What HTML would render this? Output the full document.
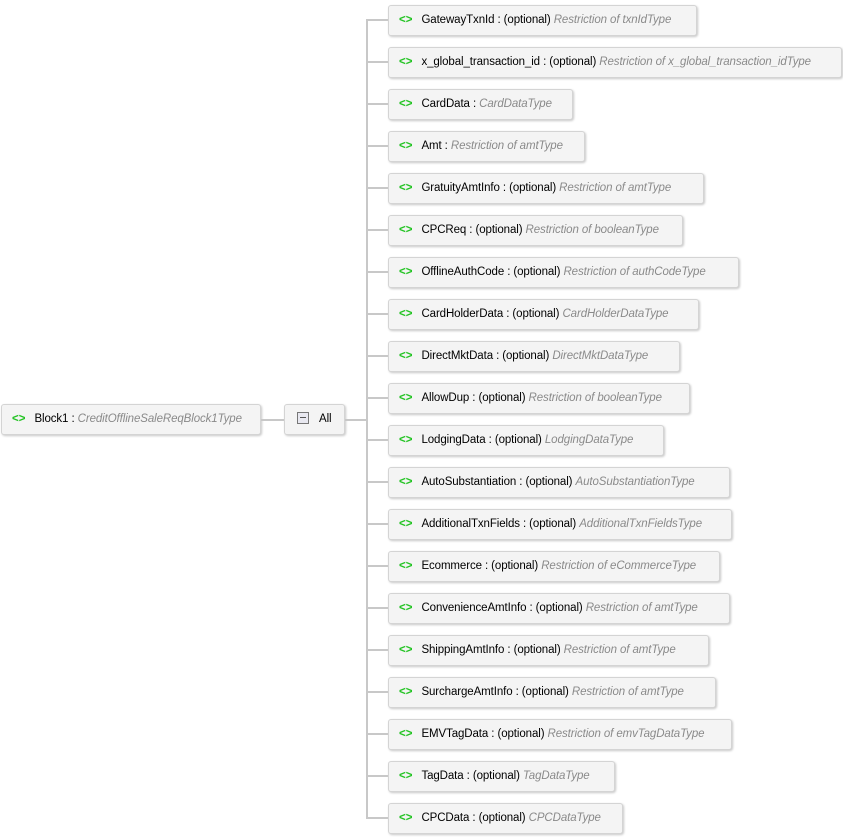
<!DOCTYPE html>
<html><head><meta charset="utf-8"><style>
body{margin:0;width:843px;height:840px;background:#fff;position:relative;font-family:"Liberation Sans",sans-serif;font-size:11.5px;overflow:hidden}
.b{position:absolute;height:31px;box-sizing:border-box;border:1px solid #d4d4d4;border-radius:3px;background:#f4f4f4;box-shadow:1px 1px 2px #c8c8c8;white-space:nowrap;line-height:29px;padding-left:10px;color:#000;letter-spacing:-0.1px}
.g{color:#22c322;font-weight:bold;margin-right:9px;letter-spacing:0}
.t{color:#8a8a8a;font-style:italic}
.l{position:absolute;background:#c8c8c8}
</style></head><body>
<div class="l" style="left:366px;top:20px;width:2px;height:799px"></div>
<div class="l" style="left:261px;top:419px;width:23px;height:2px"></div>
<div class="l" style="left:345px;top:419px;width:22px;height:2px"></div>
<div class="b" style="left:1px;top:404px;width:260px"><span class="g">&lt;&gt;</span>Block1 : <span class="t">CreditOfflineSaleReqBlock1Type</span></div>
<div class="b" style="left:284px;top:404px;width:61px;padding-left:12px"><span style="display:inline-block;width:10px;height:10px;border:1px solid #777;background:#e8e8f0;vertical-align:-2px;margin-right:10px;position:relative"><span style="position:absolute;left:2px;top:4px;width:6px;height:1px;background:#555"></span></span>All</div>
<div id="c"></div>
<script>
var d=[["GatewayTxnId : (optional) ","Restriction of txnIdType",697],
["x_global_transaction_id : (optional) ","Restriction of x_global_transaction_idType",842],
["CardData : ","CardDataType",573],
["Amt : ","Restriction of amtType",585],
["GratuityAmtInfo : (optional) ","Restriction of amtType",704],
["CPCReq : (optional) ","Restriction of booleanType",683],
["OfflineAuthCode : (optional) ","Restriction of authCodeType",739],
["CardHolderData : (optional) ","CardHolderDataType",699],
["DirectMktData : (optional) ","DirectMktDataType",680],
["AllowDup : (optional) ","Restriction of booleanType",690],
["LodgingData : (optional) ","LodgingDataType",664],
["AutoSubstantiation : (optional) ","AutoSubstantiationType",730],
["AdditionalTxnFields : (optional) ","AdditionalTxnFieldsType",732],
["Ecommerce : (optional) ","Restriction of eCommerceType",720],
["ConvenienceAmtInfo : (optional) ","Restriction of amtType",730],
["ShippingAmtInfo : (optional) ","Restriction of amtType",709],
["SurchargeAmtInfo : (optional) ","Restriction of amtType",716],
["EMVTagData : (optional) ","Restriction of emvTagDataType",732],
["TagData : (optional) ","TagDataType",615],
["CPCData : (optional) ","CPCDataType",623]];
var h="";
d.forEach(function(e,i){var y=5+i*42;
h+='<div class="l" style="left:366px;top:'+(y+14)+'px;width:22px;height:2px"></div>';
h+='<div class="b" style="left:388px;top:'+y+'px;width:'+(e[2]-388)+'px"><span class="g">&lt;&gt;</span>'+e[0]+'<span class="t">'+e[1]+'</span></div>';});
document.getElementById("c").innerHTML=h;
</script>
</body></html>
